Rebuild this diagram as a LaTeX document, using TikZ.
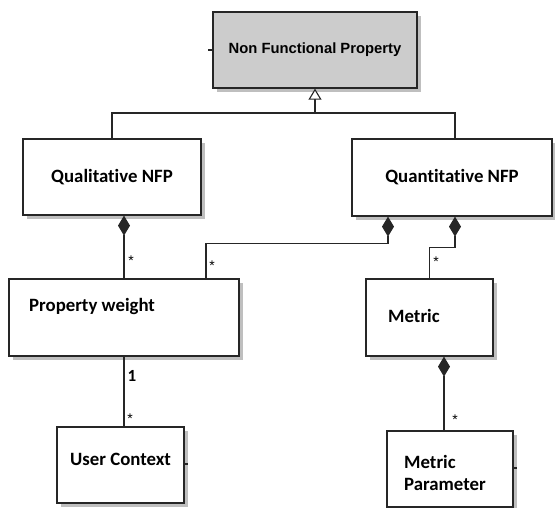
\documentclass[tikz,border=0pt]{standalone}
\usepackage{fontspec}
\newfontfamily\calibri[RawFeature={-liga}]{Carlito}
\newfontfamily\arialfont{Liberation Sans}
\usetikzlibrary{arrows.meta,shadows,positioning}

\tikzset{
  umlbox/.style={draw=black!85, line width=1.3pt, fill=white, inner sep=0pt,
    drop shadow={shadow xshift=4pt, shadow yshift=-4pt, fill=black!25, opacity=1}},
  boxtext/.style={font=\calibri\bfseries\fontsize{18.8}{22}\selectfont, inner sep=0pt},
  link/.style={line width=1.1pt, draw=black!85},
  comp/.style={link, {Diamond[length=20pt,width=12pt]}-},
  mult/.style={font=\arialfont\fontsize{14}{14}\selectfont, inner sep=0pt},
}

\begin{document}
\begin{tikzpicture}[x=1pt, y=-1pt]
    \useasboundingbox (0,0) rectangle (555,508);
    % classes
    \node[umlbox, fill=black!20, minimum width=204pt, minimum height=76pt,
          font=\arialfont\bfseries\fontsize{14.8}{17}\selectfont] (nfp) at (315,50) {Non Functional Property};
    \node[umlbox, boxtext, minimum width=178pt, minimum height=76pt] (qual) at (112,177) {Qualitative NFP};
    \node[umlbox, boxtext, minimum width=200pt, minimum height=77pt] (quant) at (452,177.5) {Quantitative NFP};
    \node[umlbox, minimum width=230pt, minimum height=77pt] (pw) at (124,317.5) {};
    \node[umlbox, minimum width=127pt, minimum height=77pt] (met) at (429.5,317.5) {};
    \node[umlbox, minimum width=127pt, minimum height=76pt] (uc) at (120.5,465) {};
    \node[umlbox, minimum width=126pt, minimum height=76pt] (mp) at (450,469) {};
    % class names
    \node[boxtext, anchor=west] (pwname) at (29,306) {Property weight};
    \node[boxtext, anchor=west] (metname) at (388,316) {Metric};
    \node[boxtext, anchor=west] (ucname) at (70,459) {User Context};
    \node[boxtext, anchor=west, align=left] (mpname) at (404,473) {Metric\\Parameter};
    % generalization
    \coordinate (gen) at (315,113);
    \draw[link] (qual.north) |- (gen) -| ([xshift=3pt]quant.north);
    \draw[link, -{Triangle[open, length=11pt, width=13pt, fill=white]}] (gen) -- (nfp.south);
    % compositions
    \draw[comp] (qual.south -| pw.north) -- (pw.north);
    \draw[comp] ([xshift=-64pt]quant.south) -- ++(0,27) -| ([xshift=82pt]pw.north);
    \draw[comp] ([xshift=3pt]quant.south) -- ++(0,31) -| (met.north);
    \draw[comp] ([xshift=14.5pt]met.south) coordinate (metfoot) -- (metfoot |- mp.north);
    % association
    \draw[link] (pw.south) -- (pw.south |- uc.north);
    % multiplicities
    \node[mult] (m1) at (131,261) {*};
    \node[mult] (m2) at (212,266) {*};
    \node[mult] (m3) at (436,262) {*};
    \node[mult] (m4) at (455,420) {*};
    \node[mult] (m5) at (130,419) {*};
    \node[boxtext, font=\calibri\bfseries\fontsize{17}{17}\selectfont] (m6) at (132,376) {1};
    % small marks on the borders
    \draw[link] (nfp.west) -- ++(-4,0);
    \fill[black!85] ([xshift=0.7pt]uc.east) rectangle ++(2.5,-2.5);
    \fill[black!85] ([xshift=0.7pt]mp.east) rectangle ++(2.5,-2.5);
\end{tikzpicture}
\end{document}
